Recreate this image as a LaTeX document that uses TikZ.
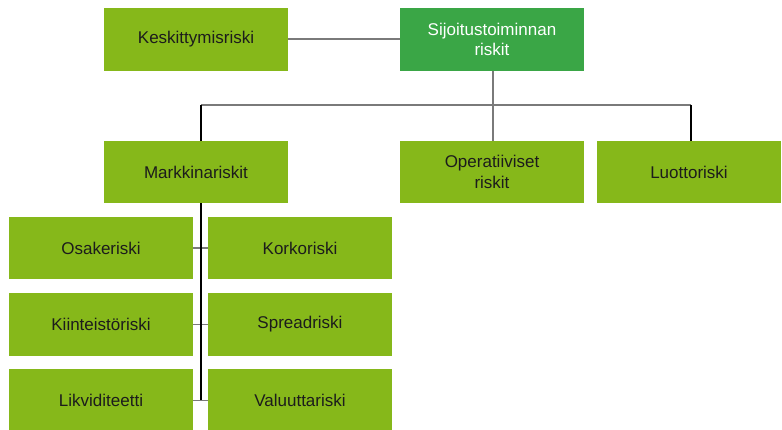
\documentclass[tikz,border=0pt]{standalone}
\usepackage{fontspec}
\setmainfont{Liberation Sans}
\definecolor{lgreen}{HTML}{86B81A}
\definecolor{dgreen}{HTML}{3AA646}
\definecolor{txt}{HTML}{1C1C1C}
\definecolor{conn}{HTML}{7A7A7A}
\begin{document}
\begin{tikzpicture}[x=1pt,y=-1pt,
  box/.style={fill=lgreen,draw=none,minimum width=184pt,minimum height=62.5pt,inner sep=0pt,
    text=txt,align=center,font=\fontsize{17}{20.5}\selectfont},
  rootbox/.style={box,fill=dgreen,text=white},
  gline/.style={draw=conn,line width=1.8pt},
  bline/.style={draw=black,line width=1.5pt}]
\useasboundingbox (0,0) rectangle (782,430);
\node[box] (kesk) at (196,39.3) {Keskittymisriski};
\node[rootbox] (root) at (492,39.3) {Sijoitustoiminnan\\riskit};
\node[box] (mark) at (196,172) {Markkinariskit};
\node[box] (oper) at (492,172) {Operatiiviset\\riskit};
\node[box] (luot) at (689,172) {Luottoriski};
\node[box] (osak) at (101,248) {Osakeriski};
\node[box] (kork) at (300,248) {Korkoriski};
\node[box] (kiin) at (101,324.5) {Kiinteistöriski};
\node[box] (spre) at (300,324.5) {Spreadriski};
\node[box] (likv) at (101,400.5) {Likviditeetti};
\node[box] (valu) at (300,400.5) {Valuuttariski};
\coordinate (bus) at (493,105);
\coordinate (busL) at (201,105);
\coordinate (busR) at (691,105);
\coordinate (mbot) at (201,400);
\draw[gline] (kesk.east) -- (root.west);
\draw[gline] (root.south -| bus) -- (bus);
\draw[gline] (busL) -- (busR);
\draw[bline] (busL) -- (busL |- mark.north);
\draw[gline] (bus) -- (bus |- oper.north);
\draw[bline] (busR) -- (busR |- luot.north);
\draw[gline] (osak.east) -- (kork.west);
\draw[gline] (kiin.east) -- (spre.west);
\draw[gline] (likv.east) -- (valu.west);
\draw[bline] (mark.south -| mbot) -- (mbot);
\end{tikzpicture}
\end{document}
